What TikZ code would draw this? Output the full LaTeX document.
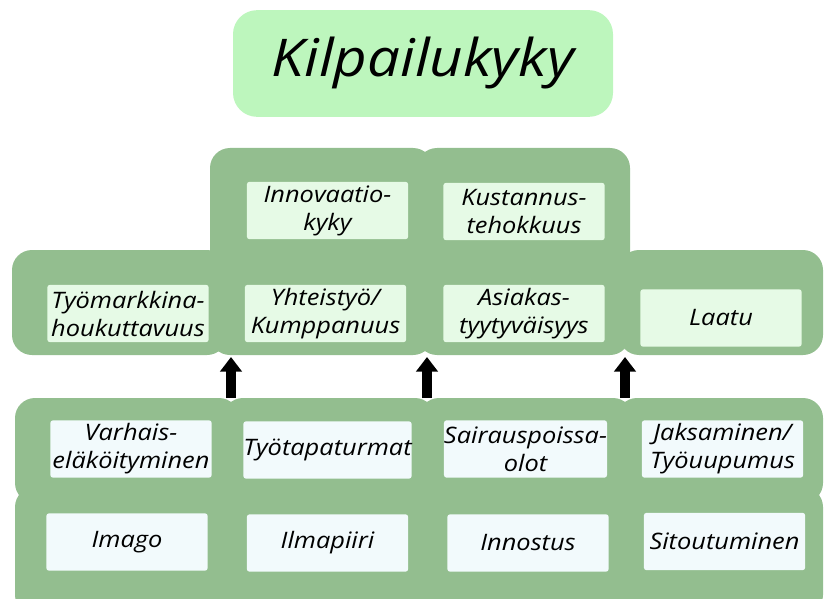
\documentclass[tikz,border=0pt]{standalone}
\usepackage{fontspec}
\setmainfont{Open Sans}[FakeStretch=1.12]
\usetikzlibrary{arrows.meta}
\definecolor{tausta}{RGB}{147,190,143}
\definecolor{otsikko}{RGB}{189,246,189}
\definecolor{ylalaatikko}{RGB}{230,250,230}
\definecolor{alalaatikko}{RGB}{242,250,252}
\begin{document}
\begin{tikzpicture}[x=0.75pt,y=-0.75pt]
	\tikzstyle{every node}=[font=\itshape\fontsize{17}{21}\selectfont,align=center,inner sep=0pt]
	\tikzstyle{ryhma}=[fill=tausta,rounded corners=15pt]
	\tikzstyle{tekija}=[fill=ylalaatikko,rounded corners=2pt,minimum width=121pt,minimum height=43pt]
	\tikzstyle{mittari}=[tekija,fill=alalaatikko]
	\tikzstyle{nuoli}=[line width=7.5pt,-{Triangle[width=16pt,length=11pt]}]
	\clip (0,0) rectangle (824,599);
	\fill[ryhma] (12,250) rectangle (227,355);
	\fill[ryhma] (210,148) rectangle (433,355);
	\fill[ryhma] (417,148) rectangle (630,355);
	\fill[ryhma] (619,250) rectangle (823,355);
	\foreach \ya/\yb in {398/503,487/615}{
		\fill[ryhma] (15,\ya) rectangle (239,\yb);
		\fill[ryhma] (223,\ya) rectangle (435,\yb);
		\fill[ryhma] (419,\ya) rectangle (633,\yb);
		\fill[ryhma] (617,\ya) rectangle (823,\yb);
	}
	\node[fill=otsikko,rounded corners=18pt,minimum width=285pt,minimum height=80pt,font=\itshape\fontsize{39}{44}\selectfont] (kilpailukyky) at (423,63.5) {Kilpailukyky};
	\node[tekija] (innovaatio) at (327.5,210.5) {Innovaatio-\\kyky};
	\node[tekija] (kustannus) at (524,211.5) {Kustannus-\\tehokkuus};
	\node[tekija] (tyomarkkina) at (128,313.5) {Työmarkkina-\\houkuttavuus};
	\node[tekija] (yhteistyo) at (325.5,313.5) {Yhteistyö/\\Kumppanuus};
	\node[tekija] (asiakas) at (524,313.5) {Asiakas-\\tyytyväisyys};
	\node[tekija] (laatu) at (721,318) {Laatu};
	\node[mittari] (varhais) at (131,449) {Varhais-\\eläköityminen};
	\node[mittari] (tyotapaturmat) at (327.5,450) {Työtapaturmat};
	\node[mittari] (sairaus) at (525.5,449) {Sairauspoissa-\\olot};
	\node[mittari] (jaksaminen) at (722.5,449) {Jaksaminen/\\Työuupumus};
	\node[mittari] (imago) at (127,542) {Imago};
	\node[mittari] (ilmapiiri) at (327.5,543) {Ilmapiiri};
	\node[mittari] (innostus) at (528,543) {Innostus};
	\node[mittari] (sitoutuminen) at (724.5,541.5) {Sitoutuminen};
	\foreach \x [count=\i] in {231,427,625}{
		\coordinate (ala\i) at (\x,398);
		\coordinate (yla\i) at (\x,357);
		\draw[nuoli] (ala\i) -- (yla\i);
	}
\end{tikzpicture}
\end{document}
